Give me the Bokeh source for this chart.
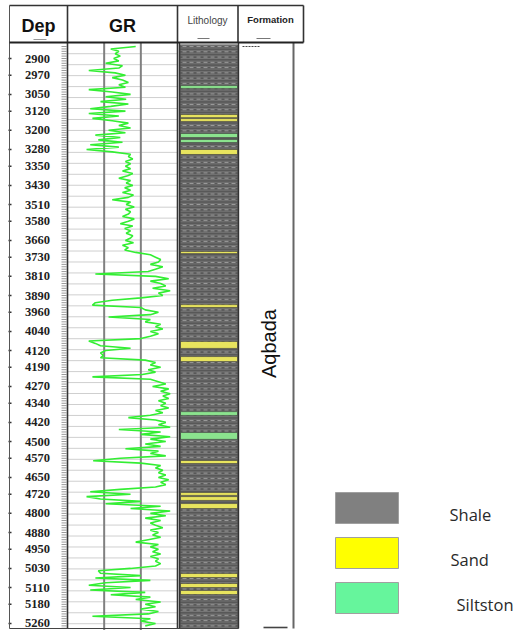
import numpy as np
from math import pi
from bokeh.plotting import figure
from bokeh.models import Range1d
from bokeh.core.properties import value
from bokeh.embed import file_html
from bokeh.resources import INLINE

# ---------------- data ----------------
depth_labels = [2900, 2970, 3050, 3120, 3200, 3280, 3350, 3430, 3510, 3580, 3660,
                3730, 3810, 3890, 3960, 4040, 4120, 4190, 4270, 4340, 4420, 4500,
                4570, 4650, 4720, 4800, 4880, 4950, 5030, 5110, 5180, 5260]

gr_top_depth = 2850   # first GR sample (m)
gr_step = 10          # sample interval (m)
gr_values = [
    93, 59, 70, 65, 72, 63, 70, 52, 75, 70,        # 2850
    29, 65, 79, 61, 75, 83, 70, 79, 29, 61,        # 2950
    86, 52, 80, 45, 83, 59, 31, 79, 29, 70,        # 3050
    34, 61, 83, 70, 86, 56, 79, 38, 72, 42,        # 3150
    75, 31, 70, 26, 61, 86, 83, 89, 79, 86,        # 3250
    79, 86, 75, 89, 82, 70, 86, 80, 89, 78,        # 3350
    86, 75, 90, 83, 61, 86, 80, 91, 79, 86,        # 3450
    83, 75, 91, 83, 72, 89, 78, 86, 80, 89,        # 3550
    86, 79, 90, 75, 83, 78, 93, 113, 120, 127,     # 3650
    124, 113, 130, 120, 110, 38, 120, 138, 113, 127,  # 3750
    134, 116, 140, 124, 130, 100, 61, 38, 34, 100,    # 3850
    106, 124, 113, 56, 113, 106, 127, 120, 130, 113,  # 3950
    124, 113, 100, 29, 38, 45, 86, 52, 45, 49,        # 4050
    45, 106, 120, 113, 127, 110, 120, 102, 34, 113,   # 4150
    124, 134, 116, 138, 127, 140, 130, 138, 124, 134, # 4250
    127, 138, 120, 130, 113, 83, 120, 134, 124, 140,  # 4350
    70, 127, 100, 140, 113, 134, 106, 127, 79, 124,   # 4450
    113, 134, 72, 35, 100, 127, 120, 130, 124, 134,   # 4550
    124, 138, 127, 134, 120, 72, 31, 86, 26, 45,      # 4650
    100, 52, 127, 86, 140, 113, 134, 106, 127, 113,   # 4750
    120, 130, 113, 124, 116, 127, 110, 93, 124, 113,  # 4850
    124, 116, 127, 113, 124, 120, 127, 120, 86, 42,   # 4950
    45, 100, 38, 113, 52, 29, 86, 31, 106, 59,        # 5050
    113, 93, 127, 106, 120, 100, 124, 110, 34, 113,   # 5150
    100, 120, 106,                                    # 5250
]
gr_depth = gr_top_depth + gr_step * np.arange(len(gr_values))
gr_min, gr_max = 0, 150

litho_top, litho_base = 2842, 5282
sand_top = [3134, 3151, 3280, 3706, 3928, 4082, 4145, 4579, 4713, 4730, 4759, 5051, 5093, 5122]
sand_base = [3147, 3163, 3301, 3715, 3940, 4111, 4166, 4592, 4725, 4746, 4780, 5068, 5110, 5139]
silt_top = [3013, 3213, 3238, 4375, 4462]
silt_base = [3025, 3230, 3251, 4391, 4491]

formation_name = "Aqbada"
legend_labels = ["Shale", "Sand", "Siltston"]
legend_colors = ["#808080", "#ffff00", "#66f59c"]

# ---------------- layout ----------------
W, H = 528, 630
PX_PER_M = 0.2394
Y_AT_2900 = 58.0
D_TOP = 2900 - Y_AT_2900 / PX_PER_M
D_BOT = 2900 + (H - Y_AT_2900) / PX_PER_M

X_DEP_L, X_GR_L, X_GR_R = 9, 67, 177
X_LI_L, X_LI_R, X_FM_R, X_HDR_R = 179, 238, 293, 303
Y_HDR_T, Y_HDR_B, Y_BOT = 5, 42, 628

p = figure(width=W, height=H, x_range=Range1d(0, W), y_range=Range1d(D_BOT, D_TOP),
           x_axis_type=None, y_axis_type=None, min_border=0,
           toolbar_location=None, output_backend="svg")
p.grid.visible = False
p.outline_line_color = None
p.background_fill_color = "white"
p.border_fill_color = "white"

gr_span = gr_max - gr_min
tw = X_GR_R - X_GR_L
p.extra_x_ranges = {"gr": Range1d(gr_min - X_GR_L * gr_span / tw,
                                  gr_max + (W - X_GR_R) * gr_span / tw)}
p.extra_y_ranges = {"page": Range1d(H, 0)}

# GR track horizontal grid
grid_d = np.linspace(2880, 5261, 53)
p.segment(x0=X_GR_L, x1=X_GR_R, y0=grid_d, y1=grid_d, line_color="#cfcfcf", line_width=1)
# GR vertical grid at 1/3, 2/3
for g in (50, 100):
    p.segment(x0=[g], x1=[g], y0=[litho_top - 9], y1=[D_BOT], x_range_name="gr",
              line_color="#808080", line_width=2)

# depth comb ticks
comb = np.arange(2850, 5281, 10)
p.segment(x0=61, x1=66, y0=comb, y1=comb, line_color="#9a9a9a", line_width=1)
p.segment(x0=[8] * len(depth_labels), x1=[11] * len(depth_labels), y0=depth_labels,
          y1=depth_labels, line_color="#333333", line_width=1.5)

# depth labels
p.text(x=[37] * len(depth_labels), y=depth_labels, text=[str(d) for d in depth_labels],
       text_align="center", text_baseline="middle", text_font=value("Liberation Serif"),
       text_font_style="bold", text_font_size="12.5px", text_color="#1e1e1e")

# GR curve
p.line(x=gr_values, y=gr_depth, x_range_name="gr", line_color="#33ee33", line_width=1.6)

# lithology column
p.quad(left=[X_LI_L], right=[X_LI_R], top=[litho_top], bottom=[litho_base],
       fill_color="#585858", line_color=None)
tex = np.arange(litho_top + 3, litho_base, 11)
p.segment(x0=X_LI_L + 1, x1=X_LI_R - 1, y0=tex, y1=tex, line_color="#767676", line_width=1)
tex2 = np.arange(litho_top + 8, litho_base, 22)
p.segment(x0=X_LI_L + 3, x1=X_LI_R - 3, y0=tex2, y1=tex2, line_color="#9c9c9c",
          line_width=1, line_dash="4 3")
p.quad(left=X_LI_L + 1, right=X_LI_R - 1, top=sand_top, bottom=sand_base,
       fill_color="#e8e45e", line_color="#3d3d3d", line_width=0.6)
p.quad(left=X_LI_L + 1, right=X_LI_R - 1, top=silt_top, bottom=silt_base,
       fill_color="#8be38e", line_color="#3d3d3d", line_width=0.6)

# frame lines (page coordinates)
vx0 = [X_DEP_L, X_GR_L, X_GR_R, X_LI_L, X_LI_R, X_FM_R, X_HDR_R, 237.5]
vy0 = [Y_HDR_T, Y_HDR_T, Y_HDR_T, Y_HDR_B, Y_HDR_B, Y_HDR_B, Y_HDR_T, Y_HDR_T]
vy1 = [Y_BOT, Y_BOT, Y_BOT, Y_BOT, Y_BOT, Y_BOT, Y_HDR_B, Y_HDR_B]
vw = [1, 1.6, 1.6, 1.4, 1.4, 2, 1.6, 1.6]
vc = ["#555555", "#333333", "#333333", "#333333", "#333333", "#666666", "#333333", "#333333"]
p.segment(x0=vx0, x1=vx0, y0=vy0, y1=vy1, y_range_name="page", line_color=vc, line_width=vw)
p.segment(x0=[X_DEP_L, X_DEP_L, X_DEP_L], x1=[X_HDR_R, X_HDR_R, X_LI_R],
          y0=[Y_HDR_T, Y_HDR_B, Y_BOT], y1=[Y_HDR_T, Y_HDR_B, Y_BOT], y_range_name="page",
          line_color=["#333333", "#222222", "#444444"], line_width=[1.5, 1.8, 1.2])

# small header/column marks
p.segment(x0=[33, 197, 256, 263], x1=[46, 209, 270, 287], y0=[39, 38, 38, 627],
          y1=[39, 38, 38, 627], y_range_name="page",
          line_color=["#999999", "#777777", "#777777", "#444444"], line_width=[1, 1, 1, 1.6])
p.segment(x0=[242], x1=[259], y0=[46], y1=[46], y_range_name="page",
          line_color="#444444", line_width=1, line_dash="2 1")

# header texts
p.text(x=[38, 122], y=[25, 25], text=["Dep", "GR"], y_range_name="page",
       text_align="center", text_baseline="middle", text_font=value("Liberation Sans"),
       text_font_style="bold", text_font_size="18px", text_color="#111111")
p.text(x=[207], y=[20], text=["Lithology"], y_range_name="page", text_align="center",
       text_baseline="middle", text_font=value("Liberation Sans"),
       text_font_size="10px", text_color="#444444")
p.text(x=[270], y=[19], text=["Formation"], y_range_name="page", text_align="center",
       text_baseline="middle", text_font=value("Liberation Sans"), text_font_style="bold",
       text_font_size="9.5px", text_color="#222222")

# formation name
p.text(x=[268], y=[343], text=[formation_name], y_range_name="page", angle=pi / 2,
       text_align="center", text_baseline="middle", text_font=value("Liberation Sans"),
       text_font_size="20px", text_color="#111111")

# legend
lt = [492, 537, 582]
p.quad(left=335, right=398, top=lt, bottom=[t + 31 for t in lt], y_range_name="page",
       fill_color=legend_colors, line_color="#a0a0a0", line_width=1)
p.text(x=[449, 450, 456], y=[t + 22 for t in lt], text=legend_labels, y_range_name="page",
       text_align="left", text_baseline="middle", text_font=value("Open Sans"),
       text_font_size="16.5px", text_color="#2a2a2a")

open("out.html", "w").write(file_html(p, INLINE))
